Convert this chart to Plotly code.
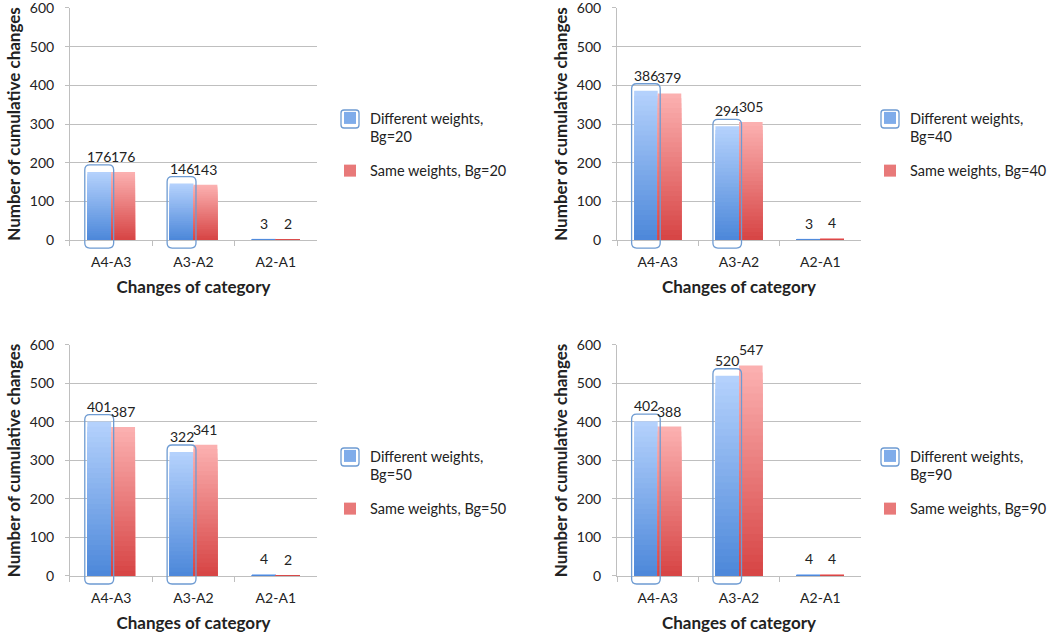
import plotly.graph_objects as go

# ---------------- data ----------------
categories = ["A4-A3", "A3-A2", "A2-A1"]
bg_levels = [20, 40, 50, 90]

diff_bg20 = [176, 146, 3]
same_bg20 = [176, 143, 2]
diff_bg40 = [386, 294, 3]
same_bg40 = [379, 305, 4]
diff_bg50 = [401, 322, 4]
same_bg50 = [387, 341, 2]
diff_bg90 = [402, 520, 4]
same_bg90 = [388, 547, 4]

highlighted = [True, True, False]   # framed "Different weights" bars

y_ticks = [0, 100, 200, 300, 400, 500, 600]

# ---------------- style ----------------
W, H = 1051, 643
FONT = "Lato"
TXT = "#222222"
GRID = "#BFBFBF"
BLUE_BOT, BLUE_TOP = (74, 134, 217), (180, 209, 252)
RED_BOT, RED_TOP = (214, 66, 66), (251, 176, 176)
BOX = "#6E9BD2"
NSEG = 30
BAR_W = 0.29
Y_MAX = 600

panels = [
    (diff_bg20, same_bg20, bg_levels[0], (0.0666, 0.3016), (0.6267, 0.9876)),
    (diff_bg40, same_bg40, bg_levels[1], (0.5871, 0.8192), (0.6267, 0.9876)),
    (diff_bg50, same_bg50, bg_levels[2], (0.0666, 0.3016), (0.1042, 0.4635)),
    (diff_bg90, same_bg90, bg_levels[3], (0.5871, 0.8192), (0.1042, 0.4635)),
]
# legend top-left corner in pixels
legend_px = [(330, 102), (870, 102), (330, 440), (870, 440)]


def mix(c0, c1, t):
    return "rgb(%d,%d,%d)" % tuple(round(a + (b - a) * t) for a, b in zip(c0, c1))


fig = go.Figure()
layout = dict(
    width=W, height=H, margin=dict(l=0, r=0, t=0, b=0, autoexpand=False),
    paper_bgcolor="white", plot_bgcolor="white",
    barmode="overlay", font=dict(family=FONT, size=14, color=TXT),
    shapes=[], annotations=[],
)

for p, (diff, same, bg, xd, yd) in enumerate(panels):
    n = p + 1
    xa = "x" if n == 1 else "x%d" % n
    ya = "y" if n == 1 else "y%d" % n
    lg = "legend" if n == 1 else "legend%d" % n

    for vals, c0, c1, off, name in [
        (diff, BLUE_BOT, BLUE_TOP, -BAR_W, "Different weights,<br>Bg=%d" % bg),
        (same, RED_BOT, RED_TOP, 0.0, "Same weights, Bg=%d" % bg),
    ]:
        # overlapping bars: full-height light one first, shorter darker ones on top
        for s in range(NSEG):
            frac = 1 - s / NSEG
            fig.add_trace(go.Bar(
                x=categories,
                y=[v * frac for v in vals],
                width=BAR_W, offset=off,
                marker=dict(color=mix(c0, c1, frac), line=dict(width=0)),
                xaxis=xa, yaxis=ya, legend=lg,
                name=name, legendgroup=name,
                showlegend=(s == NSEG // 2),
                hoverinfo="skip",
            ))
        for i, v in enumerate(vals):
            layout["annotations"].append(dict(
                x=i + off + BAR_W / 2, y=v, xref=xa, yref=ya,
                text=str(v), showarrow=False, yanchor="bottom", yshift=5,
                font=dict(family=FONT, size=14, color=TXT),
            ))

    # frames around highlighted blue bars
    px_cat = (xd[1] - xd[0]) * W / 3
    px_h = (yd[1] - yd[0]) * H
    for i, v in enumerate(diff):
        if not highlighted[i]:
            continue
        x0 = i - BAR_W - 2.5 / px_cat
        x1 = i + 2.5 / px_cat
        y0 = -8 / px_h
        y1 = v / Y_MAX + 7 / px_h
        rx, ry = 5 / px_cat, 5 / px_h
        path = (f"M{x0+rx},{y0} L{x1-rx},{y0} Q{x1},{y0} {x1},{y0+ry} "
                f"L{x1},{y1-ry} Q{x1},{y1} {x1-rx},{y1} L{x0+rx},{y1} "
                f"Q{x0},{y1} {x0},{y1-ry} L{x0},{y0+ry} Q{x0},{y0} {x0+rx},{y0} Z")
        layout["shapes"].append(dict(
            type="path", path=path, xref=xa, yref=ya + " domain",
            line=dict(color=BOX, width=1.3), fillcolor="rgba(0,0,0,0)",
        ))

    axis_common = dict(
        showline=True, linecolor=GRID, linewidth=1, automargin=False,
        ticks="outside", tickcolor=GRID, ticklen=4,
        ticklabeloverflow="allow",
        tickfont=dict(family=FONT, size=14, color=TXT),
    )
    layout["xaxis" if n == 1 else "xaxis%d" % n] = dict(
        axis_common, domain=list(xd), anchor=ya, type="category",
        categoryorder="array", categoryarray=categories,
        range=[-0.5, 2.5], tickson="boundaries", ticklen=5,
        showgrid=False, ticklabelstandoff=9,
        title=dict(text="Changes of category", standoff=12,
                   font=dict(family=FONT, size=17, color=TXT, weight="bold")),
    )
    layout["yaxis" if n == 1 else "yaxis%d" % n] = dict(
        axis_common, domain=list(yd), anchor=xa, range=[0, Y_MAX],
        tickvals=y_ticks, showgrid=True, gridcolor=GRID, gridwidth=1,
        zeroline=False, ticklabelstandoff=8,
        title=dict(text="Number of cumulative changes", standoff=4,
                   font=dict(family=FONT, size=17, color=TXT, weight="bold")),
    )
    lx, ly = legend_px[p]
    layout[lg] = dict(
        x=lx / W, y=1 - ly / H, xanchor="left", yanchor="top",
        bgcolor="rgba(0,0,0,0)", borderwidth=0, valign="top",
        font=dict(family=FONT, size=14.5, color=TXT),
        tracegroupgap=12, traceorder="grouped", itemwidth=30,
    )
    # highlight frame around the "Different weights" legend key
    cx, cy = lx + 20, ly + 17
    layout["shapes"].append(dict(
        type="path", xref="paper", yref="paper",
        path=(f"M{(cx-6)/W},{1-(cy-9)/H} L{(cx+6)/W},{1-(cy-9)/H} "
              f"Q{(cx+9)/W},{1-(cy-9)/H} {(cx+9)/W},{1-(cy-6)/H} "
              f"L{(cx+9)/W},{1-(cy+6)/H} Q{(cx+9)/W},{1-(cy+9)/H} {(cx+6)/W},{1-(cy+9)/H} "
              f"L{(cx-6)/W},{1-(cy+9)/H} Q{(cx-9)/W},{1-(cy+9)/H} {(cx-9)/W},{1-(cy+6)/H} "
              f"L{(cx-9)/W},{1-(cy-6)/H} Q{(cx-9)/W},{1-(cy-9)/H} {(cx-6)/W},{1-(cy-9)/H} Z"),
        line=dict(color=BOX, width=1.3), fillcolor="rgba(0,0,0,0)",
    ))

fig.update_layout(**layout)
fig.write_html("out.html", config={"displayModeBar": False},
               post_script="document.body.style.margin='0';")
